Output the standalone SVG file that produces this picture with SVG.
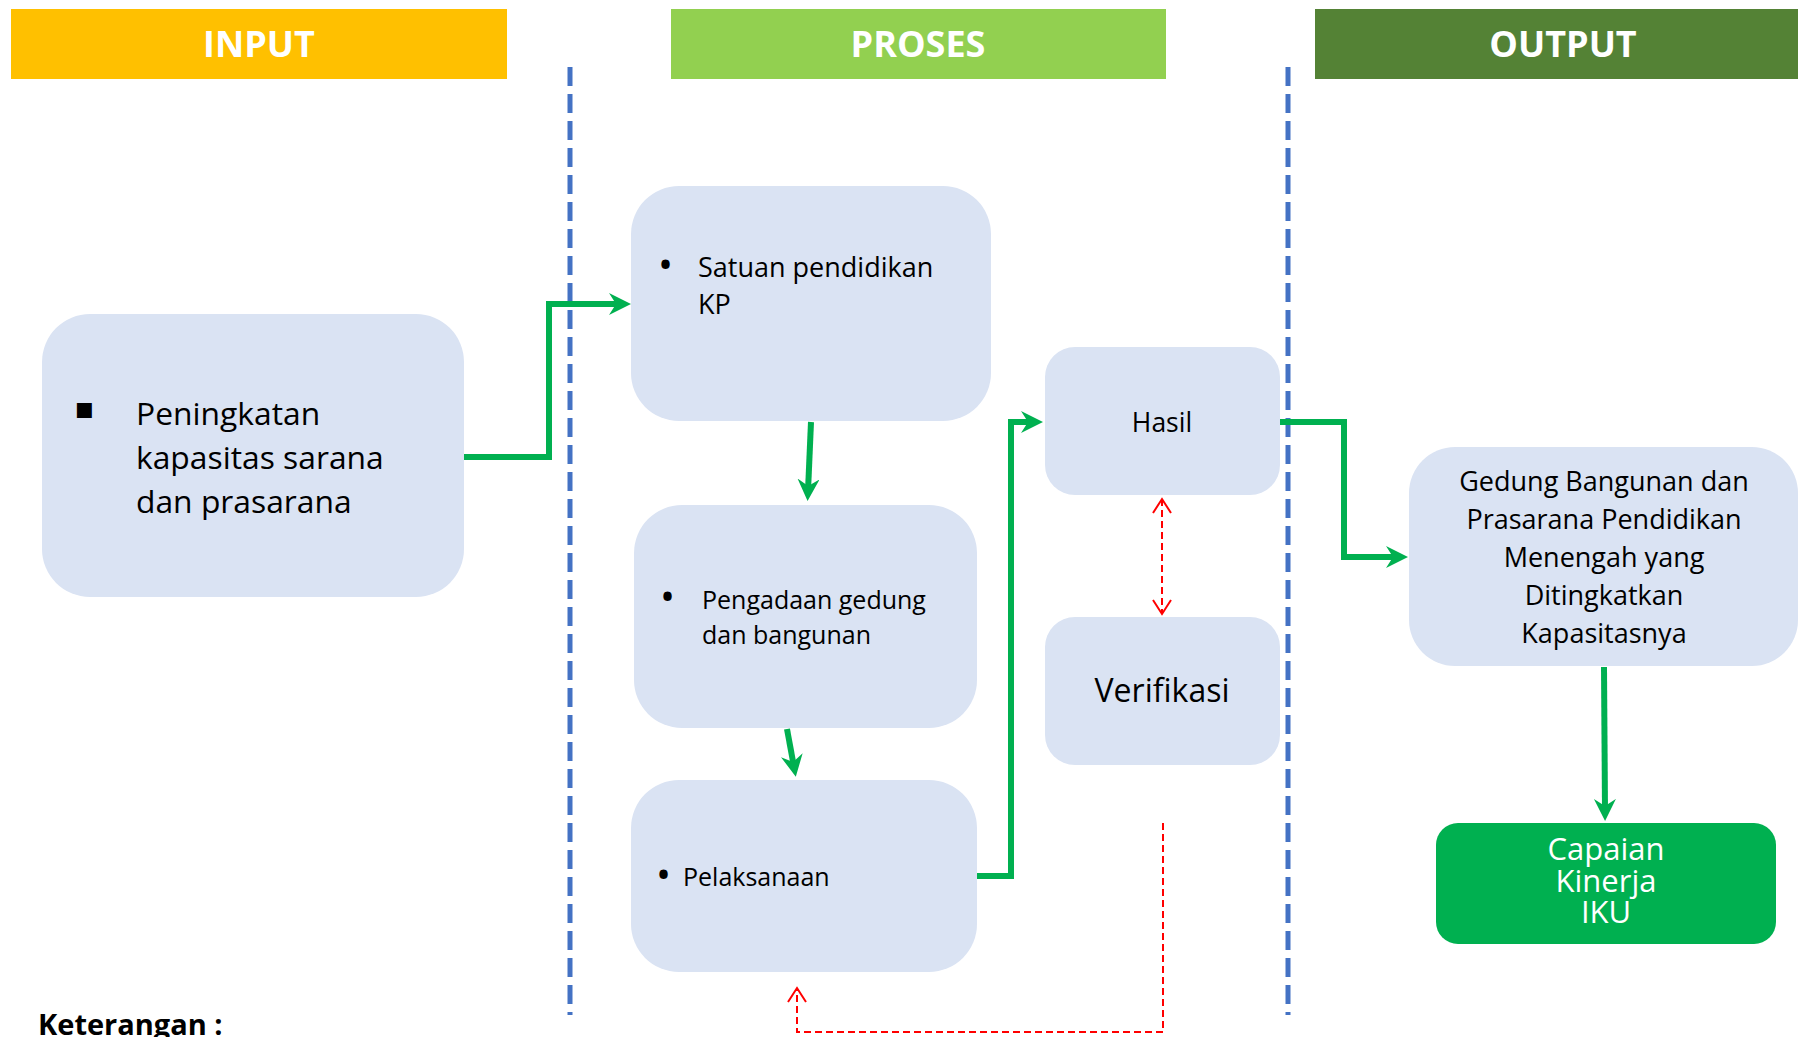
<svg xmlns="http://www.w3.org/2000/svg" width="1798" height="1037" viewBox="0 0 1798 1037">
<style>
.hdr{font-family:"Open Sans","Liberation Sans",sans-serif;font-weight:bold;font-size:36px;fill:#fff;text-anchor:middle}
.box{fill:#DAE3F3}
.t{font-family:"Open Sans","Liberation Sans",sans-serif;fill:#000}
.b{font-family:"Open Sans","Liberation Sans",sans-serif;fill:#000;font-size:40px}
.g{fill:none;stroke:#00B050;stroke-width:6}
.r{fill:none;stroke:#FF0000;stroke-width:2;stroke-dasharray:7 4}
.sep{stroke:#4472C4;stroke-width:5;stroke-dasharray:19 8}
</style>
<defs>
<marker id="ga" markerUnits="userSpaceOnUse" markerWidth="24" markerHeight="24" refX="12" refY="11" orient="auto">
<path d="M0,0 L22,11 L0,22 L7,11 z" fill="#00B050"/>
</marker>
<marker id="ra" markerUnits="userSpaceOnUse" markerWidth="20" markerHeight="22" refX="15" refY="10" orient="auto-start-reverse">
<path d="M1,1 L15,10 L1,19" fill="none" stroke="#FF0000" stroke-width="2"/>
</marker>
</defs>
<rect width="1798" height="1037" fill="#fff"/>

<g id="header-input"><rect x="11" y="9" width="496" height="70" fill="#FFC000"/><text class="hdr" x="259" y="57">INPUT</text></g>
<g id="header-proses"><rect x="671" y="9" width="495" height="70" fill="#92D050"/><text class="hdr" x="918" y="57">PROSES</text></g>
<g id="header-output"><rect x="1315" y="9" width="483" height="70" fill="#548235"/><text class="hdr" x="1563" y="57">OUTPUT</text></g>

<g id="separators">
<line class="sep" x1="570" y1="67" x2="570" y2="1015"/>
<line class="sep" x1="1288" y1="67" x2="1288" y2="1015"/>
</g>

<g id="connectors">
<path class="g" d="M464,457 H549 V304 H621" marker-end="url(#ga)"/>
<path class="g" d="M811,422 L808,491" marker-end="url(#ga)"/>
<path class="g" d="M787,729 L794,767" marker-end="url(#ga)"/>
<path class="g" d="M977,876 H1011 V422 H1033" marker-end="url(#ga)"/>
<path class="g" d="M1280,422 H1344 V557 H1398" marker-end="url(#ga)"/>
<path class="g" d="M1604,667 L1605,811" marker-end="url(#ga)"/>
<path class="r" d="M1162,499 V614" marker-start="url(#ra)" marker-end="url(#ra)"/>
<path class="r" d="M1163,823 V1032 H797 V988" marker-end="url(#ra)"/>
</g>

<g id="node-input">
<rect class="box" x="42" y="314" width="422" height="283" rx="48"/>
<text x="74" y="418" font-family="DejaVu Sans,sans-serif" font-size="30">▪</text>
<text class="t" font-size="31.8"><tspan x="136" y="425">Peningkatan</tspan><tspan x="136" y="469">kapasitas sarana</tspan><tspan x="136" y="513">dan prasarana</tspan></text>
</g>

<g id="node-satuan">
<rect class="box" x="631" y="186" width="360" height="235" rx="48"/>
<text class="b" x="658" y="279">•</text>
<text class="t" font-size="27"><tspan x="698" y="277">Satuan pendidikan</tspan><tspan x="698" y="314">KP</tspan></text>
</g>

<g id="node-pengadaan">
<rect class="box" x="634" y="505" width="343" height="223" rx="48"/>
<text class="b" x="660" y="611">•</text>
<text class="t" font-size="25"><tspan x="702" y="609">Pengadaan gedung</tspan><tspan x="702" y="644">dan bangunan</tspan></text>
</g>

<g id="node-pelaksanaan">
<rect class="box" x="631" y="780" width="346" height="192" rx="48"/>
<text class="b" x="656" y="889">•</text>
<text class="t" font-size="25" x="683" y="886">Pelaksanaan</text>
</g>

<g id="node-hasil">
<rect class="box" x="1045" y="347" width="235" height="148" rx="30"/>
<text class="t" font-size="26.5" x="1162" y="432" text-anchor="middle">Hasil</text>
</g>

<g id="node-verifikasi">
<rect class="box" x="1045" y="617" width="235" height="148" rx="30"/>
<text class="t" font-size="32" x="1162" y="702" text-anchor="middle">Verifikasi</text>
</g>

<g id="node-output">
<rect class="box" x="1409" y="447" width="389" height="219" rx="46"/>
<text class="t" font-size="27" text-anchor="middle"><tspan x="1604" y="491">Gedung Bangunan dan</tspan><tspan x="1604" y="529">Prasarana Pendidikan</tspan><tspan x="1604" y="567">Menengah yang</tspan><tspan x="1604" y="605">Ditingkatkan</tspan><tspan x="1604" y="643">Kapasitasnya</tspan></text>
</g>

<g id="node-capaian">
<rect x="1436" y="823" width="340" height="121" rx="22" fill="#00B050"/>
<text class="t" font-size="31" text-anchor="middle" style="fill:#fff"><tspan x="1606" y="860">Capaian</tspan><tspan x="1606" y="892">Kinerja</tspan><tspan x="1606" y="923">IKU</tspan></text>
</g>

<g id="keterangan">
<text class="t" font-size="29" font-weight="bold" x="38" y="1035">Keterangan :</text>
</g>
</svg>
